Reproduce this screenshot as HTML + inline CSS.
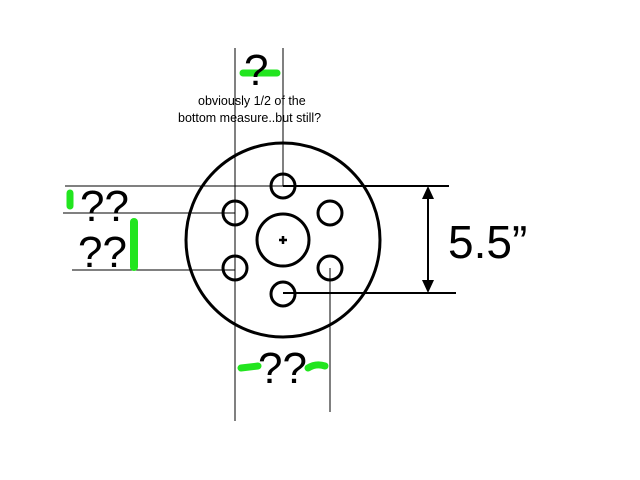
<!DOCTYPE html>
<html><head><style>body{margin:0;background:#fff}svg{display:block}</style></head><body>
<svg width="640" height="480" xmlns="http://www.w3.org/2000/svg" font-family="Liberation Sans, Arial, sans-serif">
<g stroke="#000" stroke-width="1" fill="none">
<line x1="235" y1="48" x2="235" y2="421"/>
<line x1="283" y1="48" x2="283" y2="186"/>
<line x1="330" y1="268" x2="330" y2="412"/>
<line x1="65" y1="186" x2="283" y2="186"/>
<line x1="63" y1="213" x2="235" y2="213"/>
<line x1="72" y1="270" x2="235" y2="270"/>
</g>
<g stroke="#000" stroke-width="2" fill="none">
<line x1="283" y1="186" x2="449" y2="186"/>
<line x1="283" y1="293" x2="456" y2="293"/>
<line x1="428" y1="196" x2="428" y2="283"/>
</g>
<polygon points="428,186 422,199 434,199" fill="#000"/>
<polygon points="428,293 422,280 434,280" fill="#000"/>
<g stroke="#000" stroke-width="3" fill="none">
<circle cx="283" cy="240" r="97"/>
<circle cx="283" cy="240" r="26"/>
<circle cx="283" cy="186" r="12"/>
<circle cx="235" cy="213" r="12"/>
<circle cx="330" cy="213" r="12"/>
<circle cx="235" cy="268" r="12"/>
<circle cx="330" cy="268" r="12"/>
<circle cx="283" cy="294" r="12"/>
</g>
<path d="M279 240h8M283 236v8" stroke="#000" stroke-width="2.5"/>
<g stroke="#22e51f" stroke-linecap="round" fill="none">
<line x1="243" y1="73" x2="277" y2="73" stroke-width="7"/>
<line x1="70" y1="193" x2="70" y2="206" stroke-width="7"/>
<line x1="134" y1="222" x2="134" y2="267" stroke-width="8"/>
<path d="M241 368 L258 366" stroke-width="7"/>
<path d="M308 368 Q316 363 325 366" stroke-width="7"/>
</g>
<g fill="#000">
<text x="244" y="85" font-size="44">?</text>
<text x="198" y="105" font-size="12.5">obviously 1/2 of the</text>
<text x="178" y="122" font-size="12.5">bottom measure..but still?</text>
<text x="80" y="221" font-size="44">??</text>
<text x="78" y="267" font-size="44">??</text>
<text x="258" y="383" font-size="44">??</text>
<text x="448" y="258" font-size="46">5.5”</text>
</g>
</svg>
</body></html>
